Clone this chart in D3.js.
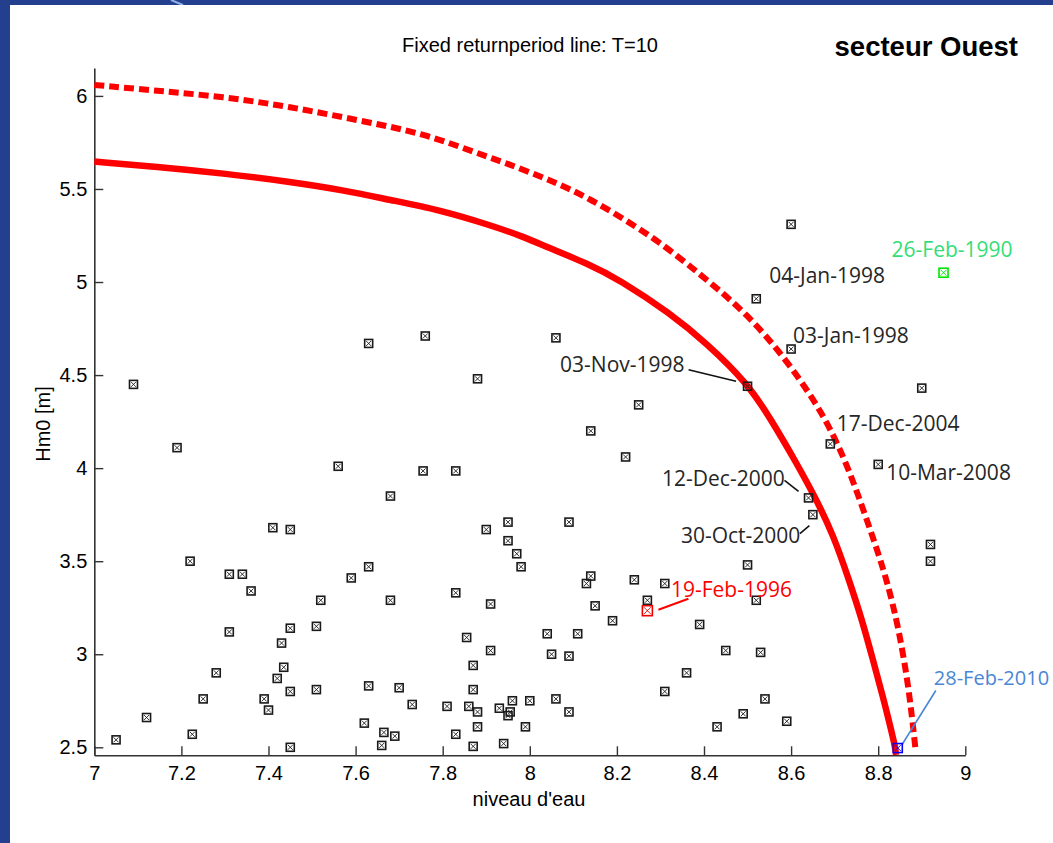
<!DOCTYPE html>
<html>
<head>
<meta charset="utf-8">
<script src="https://cdn.jsdelivr.net/npm/d3@7"></script>
<style>
  html, body { margin: 0; padding: 0; background: #243f8d; }
  svg { display: block; }
</style>
</head>
<body>
<svg id="chart" width="1053" height="843"></svg>
<script>
// Water level (niveau d'eau) and significant wave height (Hm0) of the storm events
const niveau = [7.05, 7.12, 7.09, 7.19, 7.22, 7.225, 7.25, 7.28, 7.31, 7.34, 7.36, 7.31, 7.39, 7.40,
  7.41, 7.42, 7.43, 7.435, 7.45, 7.45, 7.45, 7.45, 7.51, 7.51, 7.52, 7.56, 7.59, 7.62, 7.63, 7.63,
  7.63, 7.66, 7.665, 7.68, 7.68, 7.69, 7.70, 7.73, 7.755, 7.76, 7.81, 7.83, 7.83, 7.83, 7.855, 7.86,
  7.87, 7.87, 7.87, 7.88, 7.88, 7.88, 7.90, 7.91, 7.91, 7.93, 7.94, 7.95, 7.95, 7.95, 7.955, 7.96,
  7.97, 7.98, 7.99, 8.00, 8.04, 8.05, 8.06, 8.06, 8.09, 8.09, 8.09, 8.11, 8.13, 8.14, 8.14, 8.15,
  8.19, 8.22, 8.24, 8.25, 8.27, 8.31, 8.31, 8.36, 8.39, 8.43, 8.45, 8.49, 8.50, 8.50, 8.52, 8.52,
  8.53, 8.54, 8.59, 8.60, 8.60, 8.64, 8.65, 8.69, 8.80, 8.90, 8.92, 8.92];
const hm0 = [2.54, 2.66, 4.45, 4.11, 3.50, 2.57, 2.76, 2.90, 3.43, 3.43, 3.34, 3.12, 2.76, 2.70,
  3.68, 2.87, 3.06, 2.93, 3.67, 3.14, 2.80, 2.50, 3.15, 2.81, 3.29, 4.01, 3.41, 2.63, 4.67, 3.47,
  2.83, 2.51, 2.58, 3.85, 3.29, 2.56, 2.82, 2.73, 3.985, 4.71, 2.72, 3.985, 3.33, 2.57, 3.09, 2.72,
  2.94, 2.81, 2.505, 4.48, 2.69, 2.61, 3.67, 3.02, 3.27, 2.71, 2.52, 3.71, 3.61, 2.67, 2.69, 2.75,
  3.54, 3.47, 2.61, 2.75, 3.11, 3.00, 4.70, 2.76, 3.71, 2.99, 2.69, 3.11, 3.38, 3.42, 4.20, 3.26,
  3.18, 4.06, 3.40, 4.34, 3.29, 3.38, 2.80, 2.90, 3.16, 2.61, 3.02, 2.68, 3.48, 4.44, 4.91, 3.29,
  3.01, 2.76, 2.64, 5.31, 4.64, 3.84, 3.75, 4.13, 4.02, 4.43, 3.59, 3.50];

// Highlighted events
const eventDates = ["26-Feb-1990", "19-Feb-1996", "28-Feb-2010"];
const eventNiveau = [8.95, 8.27, 8.845];
const eventHm0 = [5.05, 3.234, 2.496];

// Labelled events (date, niveau, Hm0)
const labelDates = ["04-Jan-1998", "03-Jan-1998", "03-Nov-1998", "17-Dec-2004", "10-Mar-2008", "12-Dec-2000", "30-Oct-2000"];
const labelNiveau = [8.52, 8.60, 8.50, 8.69, 8.80, 8.64, 8.65];
const labelHm0 = [4.91, 4.64, 4.44, 4.13, 4.02, 3.84, 3.75];

// Fixed return period line T=10 (solid) and its upper bound (dashed)
const rpNiveau = [7.0, 7.143, 7.296, 7.449, 7.572, 7.679, 7.794, 7.909, 7.985, 8.046, 8.131, 8.207,
  8.322, 8.406, 8.499, 8.552, 8.611, 8.655, 8.697, 8.733, 8.763, 8.788, 8.811, 8.827, 8.839, 8.841];
const rpHm0 = [5.647, 5.620, 5.584, 5.539, 5.494, 5.441, 5.387, 5.306, 5.244, 5.181, 5.101, 5.011,
  4.832, 4.671, 4.458, 4.269, 4.033, 3.845, 3.641, 3.399, 3.184, 2.969, 2.770, 2.620, 2.502, 2.459];
const rpUpNiveau = [7.0, 7.143, 7.296, 7.449, 7.603, 7.755, 7.870, 7.947, 8.046, 8.131, 8.284, 8.398,
  8.498, 8.590, 8.673, 8.724, 8.758, 8.790, 8.820, 8.848, 8.871, 8.885, 8.886];
const rpUpHm0 = [6.059, 6.028, 5.996, 5.942, 5.871, 5.799, 5.700, 5.638, 5.548, 5.459, 5.244, 5.029,
  4.832, 4.581, 4.296, 4.044, 3.829, 3.614, 3.399, 3.130, 2.808, 2.502, 2.485];

const xTicks = [7, 7.2, 7.4, 7.6, 7.8, 8, 8.2, 8.4, 8.6, 8.8, 9];
const yTicks = [2.5, 3, 3.5, 4, 4.5, 5, 5.5, 6];

const svg = d3.select("#chart");

// white sheet on the blue slide
svg.append("rect").attr("x", 0).attr("y", 0).attr("width", 1053).attr("height", 843).attr("fill", "#243f8d");
svg.append("line").attr("x1", 171).attr("y1", 0).attr("x2", 183).attr("y2", 5)
  .attr("stroke", "#8fb0e6").attr("stroke-width", 2);
svg.append("rect").attr("x", 10).attr("y", 5).attr("width", 1043).attr("height", 838).attr("fill", "#ffffff");

const x = d3.scaleLinear().domain([7, 9]).range([94.3, 965.3]);
const y = d3.scaleLinear().domain([2.457, 6.15]).range([755.3, 68]);

const axisFont = "'Liberation Sans', Arial, sans-serif";

// axes with inward ticks
const gx = svg.append("g").attr("transform", "translate(0,755.3)")
  .call(d3.axisBottom(x).tickValues(xTicks).tickFormat(d => String(+d.toFixed(1)))
    .tickSizeInner(-9).tickSizeOuter(0).tickPadding(11));
const gy = svg.append("g").attr("transform", "translate(94.3,0)")
  .call(d3.axisLeft(y).tickValues(yTicks).tickFormat(d => String(d))
    .tickSizeInner(-9).tickSizeOuter(0).tickPadding(7));
[gx, gy].forEach(g => {
  g.select(".domain").attr("stroke", "#333").attr("stroke-width", 1.6);
  g.selectAll(".tick line").attr("stroke", "#333").attr("stroke-width", 1.4);
  g.selectAll(".tick text").attr("fill", "#000").style("font-family", axisFont).style("font-size", "20px");
});

// titles
svg.append("text").attr("x", 530).attr("y", 52).attr("text-anchor", "middle")
  .style("font-family", axisFont).style("font-size", "20px").text("Fixed returnperiod line: T=10");
svg.append("text").attr("x", 1018).attr("y", 56).attr("text-anchor", "end")
  .style("font-family", axisFont).style("font-size", "27.5px").style("font-weight", "bold").text("secteur Ouest");
svg.append("text").attr("x", 529).attr("y", 806).attr("text-anchor", "middle")
  .style("font-family", axisFont).style("font-size", "20px").text("niveau d'eau");
svg.append("text").attr("transform", "translate(50,424) rotate(-90)").attr("text-anchor", "middle")
  .style("font-family", axisFont).style("font-size", "20px").text("Hm0 [m]");

// return period curves
const line = d3.line().x(d => x(d[0])).y(d => y(d[1])).curve(d3.curveBasis);
svg.append("path").datum(d3.zip(rpNiveau, rpHm0)).attr("d", line)
  .attr("fill", "none").attr("stroke", "#ff0000").attr("stroke-width", 6.5);
svg.append("path").datum(d3.zip(rpUpNiveau, rpUpHm0)).attr("d", line)
  .attr("fill", "none").attr("stroke", "#ff0000").attr("stroke-width", 6)
  .attr("stroke-dasharray", "10,5");

// square-with-cross markers
function marker(g, cx, cy, color, s) {
  const h = s / 2;
  const m = g.append("g").attr("transform", `translate(${cx},${cy})`);
  m.append("rect").attr("x", -h).attr("y", -h).attr("width", s).attr("height", s)
    .attr("fill", "none").attr("stroke", color).attr("stroke-width", 1.6);
  m.append("path").attr("d", `M${-h + 1.5},${-h + 1.5}L${h - 1.5},${h - 1.5}M${h - 1.5},${-h + 1.5}L${-h + 1.5},${h - 1.5}`)
    .attr("stroke", color).attr("stroke-width", 0.9);
}
const gm = svg.append("g");
d3.zip(niveau, hm0).forEach(([a, b]) => marker(gm, x(a), y(b), "#1a1a1a", 8));

// labels
const labelFont = "'Open Sans', sans-serif";
const labelAnchor = {
  "04-Jan-1998": { dx: 13, dy: -15.5 },
  "03-Jan-1998": { dx: 2, dy: -6.5 },
  "03-Nov-1998": { dx: -187.5, dy: -14.5, lead: [-59, -16.5, -11.5, -5] },
  "17-Dec-2004": { dx: 6.5, dy: -12.5 },
  "10-Mar-2008": { dx: 8, dy: 15.5 },
  "12-Dec-2000": { dx: -146.5, dy: -11.5, lead: [-24, -17.5, -10, -6.5] },
  "30-Oct-2000": { dx: -132, dy: 28, lead: [-13, 19, -3.5, 11] }
};
labelDates.forEach((d, i) => {
  const px = x(labelNiveau[i]), py = y(labelHm0[i]);
  const a = labelAnchor[d];
  svg.append("text").attr("x", px + a.dx).attr("y", py + a.dy)
    .style("font-family", labelFont).style("font-size", "21px").attr("fill", "#262626").text(d);
  if (a.lead) {
    svg.append("line").attr("x1", px + a.lead[0]).attr("y1", py + a.lead[1])
      .attr("x2", px + a.lead[2]).attr("y2", py + a.lead[3])
      .attr("stroke", "#111").attr("stroke-width", 1.6);
  }
});

// highlighted events
const eventMarkerColor = ["#00e600", "#ee0000", "#0000ff"];
const eventTextColor = ["#33dd77", "#ff0000", "#4a86d4"];
const eventAnchor = [
  { dx: -52, dy: -16, size: 21 },
  { dx: 23.5, dy: -13.5, size: 21, lead: [11, -1, 41, -12] },
  { dx: 36, dy: -63, size: 20, lead: [38, -57.5, 4, -3] }
];
eventDates.forEach((d, i) => {
  const px = x(eventNiveau[i]), py = y(eventHm0[i]);
  const a = eventAnchor[i];
  if (a.lead) {
    svg.append("line").attr("x1", px + a.lead[0]).attr("y1", py + a.lead[1])
      .attr("x2", px + a.lead[2]).attr("y2", py + a.lead[3])
      .attr("stroke", eventTextColor[i]).attr("stroke-width", i === 1 ? 2 : 1.6);
  }
  marker(svg, px, py, eventMarkerColor[i], i === 1 ? 10 : 9);
  svg.append("text").attr("x", px + a.dx).attr("y", py + a.dy)
    .style("font-family", labelFont).style("font-size", a.size + "px").attr("fill", eventTextColor[i]).text(d);
});
</script>
</body>
</html>
